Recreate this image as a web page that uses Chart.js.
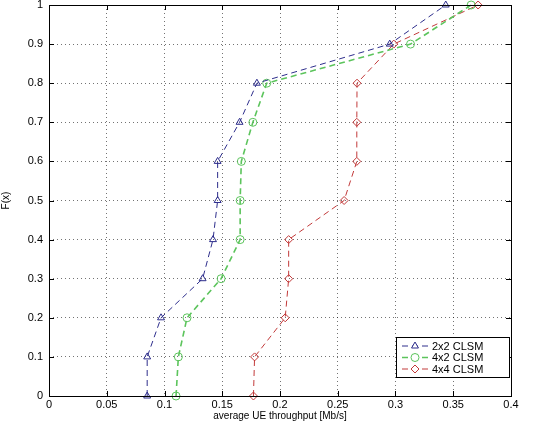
<!DOCTYPE html>
<html><head><meta charset="utf-8">
<script src="https://cdn.jsdelivr.net/npm/chart.js@4/dist/chart.umd.min.js"></script>
<style>html,body{margin:0;padding:0;background:#fff}#c{display:block}</style>
</head><body>
<canvas id="c" width="534" height="422"></canvas>
<script>
const cdfLevels = [0, 0.1, 0.2, 0.3, 0.4, 0.5, 0.6, 0.7, 0.8, 0.9, 1.0];
const tp2x2 = [0.085, 0.085, 0.097, 0.133, 0.142, 0.146, 0.146, 0.165, 0.180, 0.295, 0.3435];
const tp4x2 = [0.110, 0.112, 0.1195, 0.149, 0.1655, 0.1655, 0.1665, 0.1765, 0.1885, 0.313, 0.3655];
const tp4x4 = [0.177, 0.178, 0.2045, 0.2075, 0.2075, 0.2555, 0.2665, 0.2665, 0.2667, 0.2985, 0.3715];
const seriesNames = ['2x2 CLSM', '4x2 CLSM', '4x4 CLSM'];
const xTicks = [0, 0.05, 0.1, 0.15, 0.2, 0.25, 0.3, 0.35, 0.4];
const yTicks = [0, 0.1, 0.2, 0.3, 0.4, 0.5, 0.6, 0.7, 0.8, 0.9, 1];
const xTitle = 'average UE throughput [Mb/s]';
const yTitle = 'F(x)';

const colors = ['#2e2e8c', '#5cc45c', '#c23a3a'];
const styles = ['triangle', 'circle', 'rectRot'];
const widths = [1, 1.6, 1];
const vals = [tp2x2, tp4x2, tp4x4];

const datasets = vals.map((arr, i) => ({
  label: seriesNames[i],
  data: arr.map((v, k) => ({x: v, y: cdfLevels[k]})),
  borderColor: colors[i],
  backgroundColor: 'rgba(255,255,255,0)',
  borderWidth: widths[i],
  borderDash: [6, 4],
  pointStyle: styles[i],
  pointRadius: 4,
  pointBorderWidth: 1,
  pointBorderColor: colors[i],
  pointBackgroundColor: 'rgba(255,255,255,0)',
  showLine: true,
  tension: 0,
  clip: false
}));

const fmt = v => (+(+v).toFixed(2)).toString();

const framePlugin = {
  id: 'frame',
  afterDatasetsDraw(chart) {
    const {ctx, chartArea: a, scales} = chart;
    ctx.save();
    ctx.strokeStyle = '#000';
    ctx.lineWidth = 1;
    ctx.setLineDash([]);
    ctx.strokeRect(a.left + 0.5, a.top + 0.5, a.right - a.left, a.bottom - a.top);
    ctx.beginPath();
    xTicks.forEach(t => {
      const x = Math.round(scales.x.getPixelForValue(t)) + 0.5;
      ctx.moveTo(x, a.bottom); ctx.lineTo(x, a.bottom - 5);
      ctx.moveTo(x, a.top); ctx.lineTo(x, a.top + 5);
    });
    yTicks.forEach(t => {
      const y = Math.round(scales.y.getPixelForValue(t)) + 0.5;
      ctx.moveTo(a.left, y); ctx.lineTo(a.left + 5, y);
      ctx.moveTo(a.right, y); ctx.lineTo(a.right - 5, y);
    });
    ctx.stroke();
    // legend
    const bx = 396, by = 337, bw = 113, bh = 40;
    ctx.fillStyle = '#fff';
    ctx.fillRect(bx, by, bw, bh);
    ctx.strokeStyle = '#000';
    ctx.strokeRect(bx + 0.5, by + 0.5, bw, bh);
    ctx.font = '11px "Liberation Sans", Arial, sans-serif';
    ctx.textBaseline = 'middle';
    seriesNames.forEach((n, i) => {
      const y = by + 9 + i * 11.5;
      ctx.strokeStyle = colors[i];
      ctx.lineWidth = widths[i];
      ctx.setLineDash([6, 4]);
      ctx.beginPath(); ctx.moveTo(bx + 6, y); ctx.lineTo(bx + 33, y); ctx.stroke();
      ctx.setLineDash([]);
      ctx.lineWidth = 1;
      ctx.strokeStyle = colors[i];
      ctx.fillStyle = '#fff';
      Chart.helpers.drawPoint(ctx, {pointStyle: styles[i], radius: 4, borderWidth: 1, rotation: 0}, bx + 19, y);
      ctx.fillStyle = '#000';
      ctx.fillText(n, bx + 36, y + 0.5);
    });
    ctx.restore();
  }
};

new Chart(document.getElementById('c'), {
  type: 'scatter',
  data: {datasets},
  plugins: [framePlugin],
  options: {
    responsive: false,
    animation: false,
    layout: {padding: {top: 5, right: 23, left: 0, bottom: 0}},
    plugins: {legend: {display: false}, tooltip: {enabled: false}},
    scales: {
      x: {
        type: 'linear', min: 0, max: 0.4,
        afterBuildTicks: s => { s.ticks = xTicks.map(v => ({value: v})); },
        afterFit: s => { s.height = 26; s.paddingLeft = 0; s.paddingRight = 0; },
        ticks: {autoSkip: false, maxRotation: 0, padding: 2, color: '#000',
          font: {family: '"Liberation Sans", Arial, sans-serif', size: 11},
          callback: v => fmt(v)},
        grid: {color: 'rgba(0,0,0,0.55)', drawTicks: false},
        border: {display: false, dash: [1, 3]},
        title: {display: true, text: xTitle, color: '#000', padding: 0,
          font: {family: '"Liberation Sans", Arial, sans-serif', size: 10}}
      },
      y: {
        type: 'linear', min: 0, max: 1,
        afterBuildTicks: s => { s.ticks = yTicks.map(v => ({value: v})); },
        afterFit: s => { s.width = 49; s.paddingTop = 0; s.paddingBottom = 0; },
        ticks: {autoSkip: false, padding: 6, color: '#000',
          font: {family: '"Liberation Sans", Arial, sans-serif', size: 11},
          callback: v => fmt(v)},
        grid: {color: 'rgba(0,0,0,0.55)', drawTicks: false},
        border: {display: false, dash: [1, 3]},
        title: {display: true, text: yTitle, color: '#000', padding: 0,
          font: {family: '"Liberation Sans", Arial, sans-serif', size: 10}}
      }
    }
  }
});
</script>
</body></html>
